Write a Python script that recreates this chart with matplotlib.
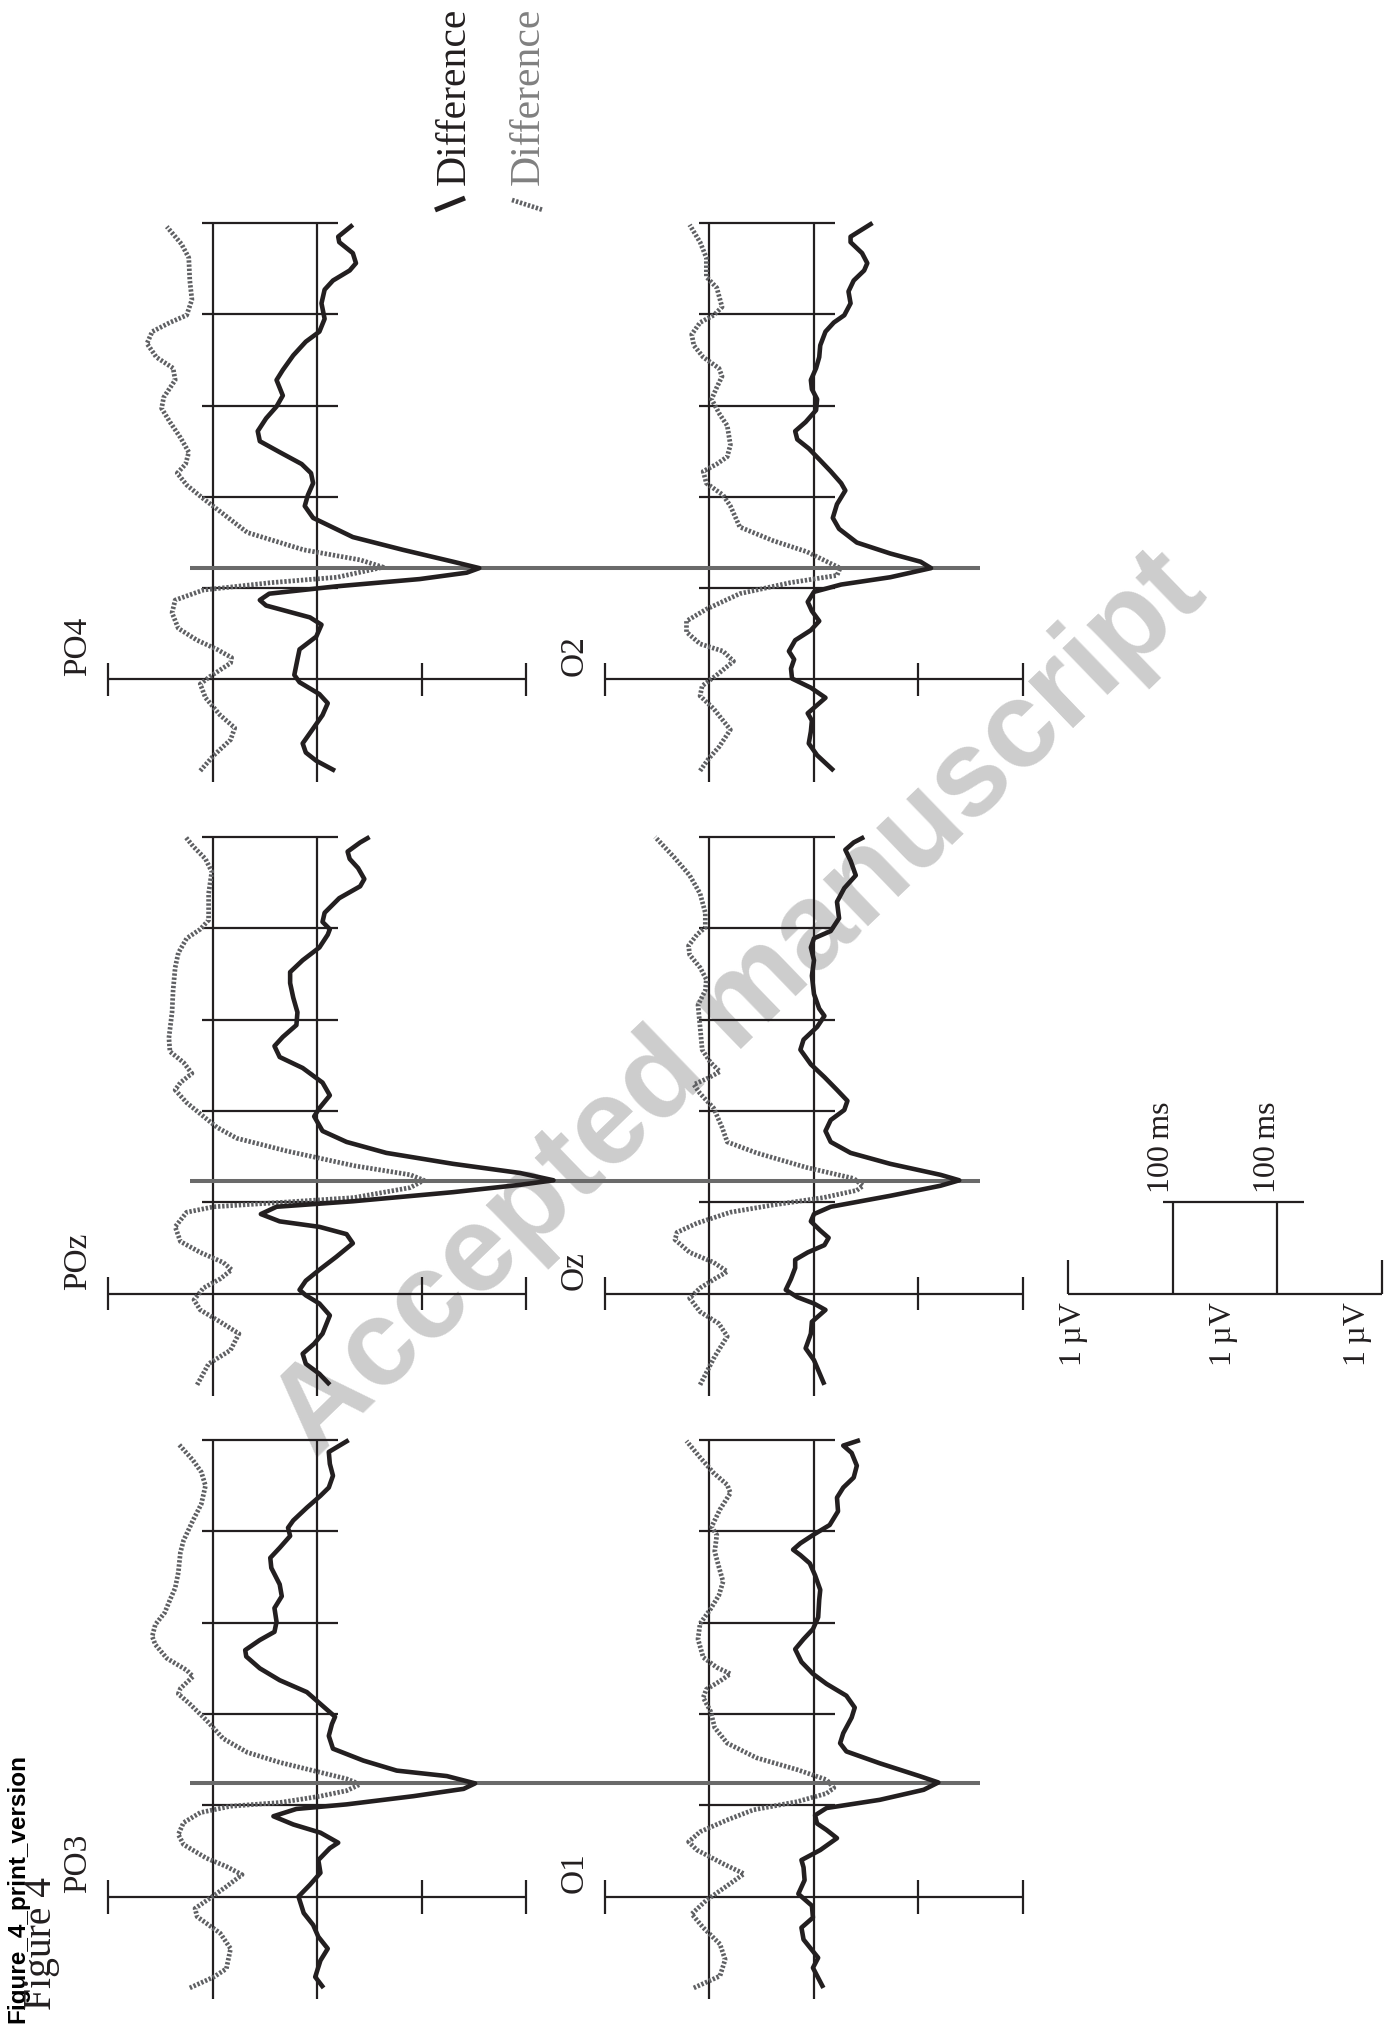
"""Figure 4 (print version): difference waves at PO3/POz/PO4 and O1/Oz/O2.

The page is rotated 90 degrees, so time runs upward and amplitude runs
to the right. Each column of the page gets one axes (uV across, ms up).
"""
import matplotlib
matplotlib.use("Agg")
import matplotlib.pyplot as plt
from matplotlib.lines import Line2D
import numpy as np

# ---- data (ms, uV) ---------------------------------------------------------
# black = first difference wave, dotted = second difference wave
PO3_BLACK_MS = [-100, -88, -70, -57, -44, -31, -18, 0, 13, 26, 40, 53, 59, 70, 79, 88, 96, 101,
                110, 118, 124, 132, 138, 149, 162, 176, 189, 197, 211, 224, 237, 250, 263, 270,
                281, 290, 301, 316, 329, 342, 360, 371, 382, 395, 404, 412, 426, 439, 448, 461,
                474, 487, 500]
PO3_BLACK_UV = [0.06, -0.02, 0.03, 0.10, 0.01, -0.04, -0.13, -0.18, -0.07, 0.03, 0.01, 0.12, 0.20,
                0.03, -0.23, -0.42, -0.20, 0.28, 0.92, 1.40, 1.51, 1.24, 0.76, 0.44, 0.15, 0.11,
                0.14, 0.17, 0.03, -0.10, -0.36, -0.55, -0.68, -0.69, -0.55, -0.41, -0.39, -0.41,
                -0.34, -0.36, -0.44, -0.45, -0.36, -0.26, -0.28, -0.23, -0.10, 0.03, 0.11, 0.15,
                0.12, 0.11, 0.30]
PO3_DOT_MS = [-100, -88, -79, -57, -40, -22, -13, -2, 11, 24, 33, 42, 57, 68, 81, 92, 99, 103,
              110, 116, 123, 129, 138, 147, 158, 173, 193, 211, 222, 228, 241, 248, 261, 276,
              285, 298, 311, 325, 338, 355, 377, 390, 412, 430, 450, 465, 478, 496]
PO3_DOT_UV = [-0.22, 0.01, 0.13, 0.17, 0.07, -0.15, -0.17, -0.03, 0.13, 0.28, 0.13, -0.06, -0.28,
              -0.33, -0.28, -0.12, 0.17, 0.64, 1.03, 1.28, 1.41, 1.28, 0.96, 0.64, 0.33, 0.10,
              -0.06, -0.22, -0.33, -0.31, -0.19, -0.25, -0.44, -0.55, -0.58, -0.55, -0.46, -0.41,
              -0.36, -0.33, -0.31, -0.28, -0.19, -0.11, -0.07, -0.11, -0.19, -0.33]

O1_BLACK_MS = [-100, -78, -67, -47, -34, -23, -10, 3, 18, 32, 40, 51, 64, 73, 80, 89, 97, 106,
               117, 125, 132, 146, 159, 168, 179, 196, 207, 220, 233, 244, 257, 271, 282, 293,
               306, 325, 336, 352, 365, 374, 380, 387, 396, 407, 422, 437, 448, 459, 472, 486,
               494, 500]
O1_BLACK_UV = [0.09, -0.01, 0.04, -0.10, -0.12, -0.01, -0.02, -0.15, -0.09, -0.10, -0.12, 0.06,
               0.22, 0.12, 0.03, 0.01, 0.12, 0.63, 1.05, 1.19, 1.01, 0.63, 0.31, 0.25, 0.28, 0.36,
               0.39, 0.31, 0.12, -0.01, -0.12, -0.18, -0.10, -0.01, 0.04, 0.05, 0.06, 0.01, -0.04,
               -0.13, -0.20, -0.13, -0.01, 0.15, 0.23, 0.22, 0.28, 0.38, 0.41, 0.36, 0.28, 0.44]
O1_DOT_MS = [-100, -87, -69, -52, -34, -19, -4, 12, 25, 36, 51, 60, 71, 84, 95, 104, 113, 119,
             128, 139, 152, 168, 185, 203, 218, 227, 236, 244, 251, 262, 282, 299, 315, 330, 345,
             361, 378, 396, 405, 424, 442, 451, 464, 481, 499]
O1_DOT_UV = [-0.15, 0.10, 0.15, 0.10, -0.06, -0.17, -0.03, 0.17, 0.33, 0.13, -0.12, -0.20, -0.09,
             0.17, 0.42, 0.84, 1.12, 1.19, 1.12, 0.84, 0.45, 0.17, 0.05, 0.01, -0.06, -0.03, 0.10,
             0.20, 0.07, -0.06, -0.11, -0.09, 0.01, 0.09, 0.13, 0.09, 0.05, 0.07, 0.02, 0.10,
             0.20, 0.17, 0.04, -0.09, -0.22]

POZ_BLACK_MS = [-100, -88, -77, -66, -55, -44, -24, -11, -2, 4, 14, 26, 40, 55, 65, 73, 79, 87,
                95, 101, 111, 119, 124, 132, 142, 154, 166, 178, 194, 203, 217, 231, 247, 259,
                271, 281, 294, 308, 324, 340, 352, 365, 379, 393, 399, 407, 417, 433, 446, 454,
                466, 476, 484, 494, 500]
POZ_BLACK_UV = [0.12, 0.02, -0.11, -0.14, -0.03, 0.05, 0.12, 0.02, -0.11, -0.17, -0.11, 0.02,
                0.18, 0.34, 0.28, 0.02, -0.36, -0.54, -0.39, 0.34, 1.30, 1.94, 2.26, 1.94, 1.30,
                0.66, 0.28, 0.05, -0.03, 0.02, 0.12, 0.05, -0.14, -0.36, -0.41, -0.33, -0.20,
                -0.19, -0.23, -0.26, -0.26, -0.14, 0.02, 0.10, 0.12, 0.05, 0.07, 0.21, 0.41, 0.45,
                0.39, 0.31, 0.29, 0.41, 0.50]
POZ_DOT_MS = [-100, -77, -62, -44, -31, -18, -7, 6, 16, 26, 34, 45, 57, 73, 89, 95, 99, 105, 116,
              124, 130, 140, 156, 170, 182, 194, 209, 223, 231, 241, 253, 265, 280, 308, 332, 357,
              373, 389, 399, 409, 438, 462, 476, 490, 500]
POZ_DOT_UV = [-0.15, -0.04, 0.17, 0.25, 0.07, -0.12, -0.18, -0.09, 0.07, 0.18, 0.10, -0.12, -0.31,
              -0.36, -0.25, 0.01, 0.55, 1.35, 1.89, 2.02, 1.89, 1.35, 0.71, 0.23, 0.04, -0.09,
              -0.25, -0.36, -0.31, -0.20, -0.28, -0.41, -0.42, -0.39, -0.38, -0.36, -0.33, -0.25,
              -0.12, -0.04, -0.04, -0.01, -0.07, -0.19, -0.26]

OZ_BLACK_MS = [-100, -73, -60, -44, -31, -18, -11, -4, 4, 16, 28, 37, 45, 53, 61, 69, 79, 87, 95,
               107, 118, 124, 130, 142, 154, 166, 178, 190, 201, 211, 223, 237, 251, 267, 278,
               292, 304, 312, 328, 348, 365, 379, 389, 397, 411, 429, 444, 458, 474, 486, 494, 500]
OZ_BLACK_UV = [0.10, 0.0, -0.08, -0.03, -0.02, 0.11, 0.0, -0.16, -0.27, -0.22, -0.18, -0.18,
               -0.06, 0.10, 0.14, 0.06, -0.03, 0.0, 0.16, 0.73, 1.21, 1.39, 1.21, 0.73, 0.35, 0.16,
               0.11, 0.16, 0.29, 0.32, 0.22, 0.10, -0.03, -0.13, -0.10, 0.03, 0.10, 0.05, 0.0,
               -0.02, 0.0, -0.03, 0.0, 0.16, 0.24, 0.22, 0.29, 0.40, 0.35, 0.30, 0.38, 0.48]
OZ_DOT_MS = [-100, -69, -47, -33, -20, -5, 6, 16, 24, 34, 45, 59, 67, 77, 89, 97, 105, 113, 118,
             126, 138, 154, 166, 182, 203, 219, 229, 235, 243, 253, 267, 292, 316, 332, 344, 357,
             371, 381, 393, 401, 417, 438, 458, 478, 500]
OZ_DOT_UV = [-0.09, 0.05, 0.17, 0.09, -0.09, -0.19, -0.09, 0.05, 0.17, 0.04, -0.19, -0.33, -0.31,
             -0.12, 0.20, 0.61, 1.09, 1.41, 1.47, 1.38, 0.93, 0.45, 0.17, 0.12, 0.04, -0.09, -0.15,
             -0.03, 0.10, 0.01, -0.07, -0.09, -0.11, -0.04, -0.03, -0.09, -0.19, -0.20, -0.12,
             -0.04, -0.04, -0.09, -0.19, -0.34, -0.52]

PO4_BLACK_MS = [-100, -89, -80, -70, -57, -39, -26, -16, -3, 5, 22, 33, 47, 60, 68, 81, 87, 94,
                102, 110, 117, 122, 129, 142, 156, 177, 190, 202, 215, 226, 236, 249, 261, 272,
                286, 299, 311, 328, 339, 355, 370, 381, 395, 412, 427, 437, 448, 456, 467, 479,
                485, 498]
PO4_BLACK_UV = [0.17, -0.01, -0.11, -0.14, -0.06, 0.05, 0.10, 0.02, -0.17, -0.22, -0.19, -0.17,
                -0.01, 0.04, -0.07, -0.49, -0.55, -0.46, 0.18, 0.98, 1.43, 1.55, 1.30, 0.82, 0.34,
                -0.04, -0.12, -0.09, -0.04, -0.06, -0.15, -0.36, -0.55, -0.57, -0.49, -0.39,
                -0.33, -0.39, -0.33, -0.23, -0.11, 0.02, 0.07, 0.04, 0.07, 0.15, 0.31, 0.37, 0.34,
                0.21, 0.20, 0.34]
PO4_DOT_MS = [-100, -83, -66, -53, -39, -20, -5, 3, 18, 24, 33, 43, 56, 73, 87, 98, 106, 112,
              123, 131, 142, 161, 184, 198, 213, 226, 236, 249, 265, 282, 297, 309, 328, 341, 353,
              368, 381, 391, 399, 416, 437, 462, 477, 496]
PO4_DOT_UV = [-0.12, 0.01, 0.17, 0.21, 0.07, -0.07, -0.12, -0.03, 0.17, 0.18, 0.04, -0.15, -0.33,
              -0.39, -0.36, -0.09, 0.55, 1.19, 1.63, 1.41, 0.87, 0.33, 0.07, -0.09, -0.25, -0.34,
              -0.26, -0.23, -0.31, -0.41, -0.49, -0.47, -0.36, -0.38, -0.54, -0.63, -0.58, -0.41,
              -0.25, -0.20, -0.22, -0.23, -0.30, -0.44]

O2_BLACK_MS = [-100, -83, -70, -57, -45, -37, -28, -20, -9, 1, 12, 22, 31, 43, 54, 64, 75, 85, 96,
               104, 112, 122, 129, 138, 150, 165, 177, 192, 207, 215, 228, 240, 253, 263, 272,
               282, 295, 307, 318, 328, 341, 353, 366, 381, 391, 399, 412, 425, 437, 448, 456,
               467, 479, 485, 500]
O2_BLACK_UV = [0.19, 0.03, -0.05, -0.03, -0.02, -0.06, 0.03, 0.11, -0.03, -0.21, -0.22, -0.19,
               -0.24, -0.18, -0.03, 0.05, -0.02, -0.06, 0.0, 0.26, 0.73, 1.12, 1.02, 0.73, 0.41,
               0.24, 0.18, 0.22, 0.30, 0.26, 0.16, 0.06, -0.05, -0.16, -0.18, -0.08, 0.02, 0.03,
               -0.02, -0.03, 0.02, 0.05, 0.06, 0.11, 0.19, 0.29, 0.35, 0.33, 0.38, 0.48, 0.51,
               0.46, 0.35, 0.35, 0.56]
O2_DOT_MS = [-100, -87, -74, -55, -45, -32, -18, -7, 5, 20, 31, 39, 52, 64, 77, 94, 106, 114, 122,
             140, 152, 167, 190, 202, 215, 228, 236, 244, 257, 278, 290, 307, 320, 332, 341, 353,
             366, 378, 391, 399, 408, 429, 441, 462, 479, 498]
O2_DOT_UV = [-0.09, -0.01, 0.09, 0.20, 0.13, 0.04, -0.09, -0.07, 0.07, 0.23, 0.13, -0.09, -0.22,
             -0.22, -0.03, 0.29, 0.77, 1.22, 1.25, 0.93, 0.61, 0.29, 0.20, 0.13, -0.03, -0.06,
             0.07, 0.17, 0.20, 0.17, 0.10, 0.02, 0.07, 0.12, 0.09, -0.06, -0.15, -0.17, -0.09,
             0.04, 0.12, 0.07, -0.03, -0.03, -0.09, -0.19]

# latency of the grey marker in each page column (PO3/O1, POz/Oz, PO4/O2)
MARKER_MS = [124, 123, 122]
TIME_TICKS_MS = [100, 200, 300, 400, 500]

# ---- page geometry ---------------------------------------------------------
W, H = 1388, 2028
PX_PER_UV = 104.5
PX_PER_MS = 0.913
X0_PX = 317.3                      # black baseline of the PO panels
O_SHIFT = 4.753                    # O panels sit this many uV to the right
COL_ZERO_Y = [1896.6, 1293.5, 679.5]
COL_BAND = [(1420, 2028), (810, 1420), (0, 810)]

INK = "#231f20"
DOT_GREY = "#5f6063"
MARK_GREY = "#6a6a6a"
SERIF = ["Liberation Serif", "DejaVu Serif"]
SANS = ["Liberation Sans", "DejaVu Sans"]
GUIDE_LW = 1.6
TRACE_LW = 3.3
DOT_STYLE = dict(color=DOT_GREY, lw=3.4, linestyle=(0, (0.5, 0.38)),
                 dash_capstyle="butt", zorder=3)

fig = plt.figure(figsize=(W / 100, H / 100), dpi=100)


def fx(x):
    return x / W


def fy(y):
    return 1 - y / H


cols = []
for y0, (top, bot) in zip(COL_ZERO_Y, COL_BAND):
    ax = fig.add_axes([0, 1 - bot / H, 1, (bot - top) / H])
    ax.set_xlim(-X0_PX / PX_PER_UV, (W - X0_PX) / PX_PER_UV)
    ax.set_ylim((y0 - bot) / PX_PER_MS, (y0 - top) / PX_PER_MS)
    ax.axis("off")
    ax.patch.set_visible(False)
    cols.append(ax)


def guide(ax, xs, ys):
    ax.plot(xs, ys, color=INK, lw=GUIDE_LW, solid_capstyle="butt", zorder=2)


def panel(ax, off, name, black_ms, black_uv, dot_ms, dot_uv):
    # amplitude axis at t = 0 with its end ticks
    guide(ax, [off - 2, off + 2], [0, 0])
    for tx in (-2, 1, 2):
        guide(ax, [off + tx, off + tx], [-18.6, 18.6])
    # two zero lines: dotted wave at -1 uV, black wave at 0 uV
    for bx in (-1, 0):
        guide(ax, [off + bx, off + bx], [-112, 500])
    for t in TIME_TICKS_MS:
        guide(ax, [off - 1.1, off + 0.2], [t, t])
    ax.plot(off - 1 + np.array(dot_uv), dot_ms, **DOT_STYLE)
    ax.plot(off + np.array(black_uv), black_ms, color=INK, lw=TRACE_LW,
            solid_joinstyle="round", solid_capstyle="butt", zorder=5)
    ax.text(off - 2.29, 4, name, rotation=90, ha="center", va="bottom",
            fontsize=24, family=SERIF, color=INK)


panels = [
    (0, 0.0, "PO3", PO3_BLACK_MS, PO3_BLACK_UV, PO3_DOT_MS, PO3_DOT_UV),
    (0, O_SHIFT, "O1", O1_BLACK_MS, O1_BLACK_UV, O1_DOT_MS, O1_DOT_UV),
    (1, 0.0, "POz", POZ_BLACK_MS, POZ_BLACK_UV, POZ_DOT_MS, POZ_DOT_UV),
    (1, O_SHIFT, "Oz", OZ_BLACK_MS, OZ_BLACK_UV, OZ_DOT_MS, OZ_DOT_UV),
    (2, 0.0, "PO4", PO4_BLACK_MS, PO4_BLACK_UV, PO4_DOT_MS, PO4_DOT_UV),
    (2, O_SHIFT, "O2", O2_BLACK_MS, O2_BLACK_UV, O2_DOT_MS, O2_DOT_UV),
]
for ci, off, name, bms, buv, dms, duv in panels:
    panel(cols[ci], off, name, bms, buv, dms, duv)

# grey latency marker running through both panels of a column
for ax, t in zip(cols, MARKER_MS):
    ax.plot([-1.218, O_SHIFT + 1.589], [t, t], color=MARK_GREY, lw=2.9,
            solid_capstyle="butt", zorder=4)

# calibration bar, drawn in the middle column at its t = 0
sb = cols[1]
sx = 7.184
guide(sb, [sx, sx + 3], [0, 0])
guide(sb, [sx, sx], [0, 37])
guide(sb, [sx + 3, sx + 3], [0, 37])
guide(sb, [sx + 1, sx + 1], [0, 100])
guide(sb, [sx + 2, sx + 2], [0, 100])
guide(sb, [sx + 0.906, sx + 2.258], [100, 100])
for lx in (0.897, 1.909):
    sb.text(sx + lx, 110, "100\u2009ms", rotation=90, ha="center", va="bottom",
            fontsize=23, family=SERIF, color=INK)
for lx in (0.05, 1.483, 2.77):
    sb.text(sx + lx, -9, "1\u2009\u00b5V", rotation=90, ha="center", va="top",
            fontsize=23, family=SERIF, color=INK)

# legend keys at the top edge of the page
fig.add_artist(Line2D([fx(435), fx(465)], [fy(210), fy(198)], color=INK, lw=3.6,
                      solid_capstyle="butt"))
fig.add_artist(Line2D([fx(512), fx(543)], [fy(200), fy(210)], **DOT_STYLE))
fig.text(fx(454), fy(185), "Difference", rotation=90, ha="center", va="bottom",
         fontsize=30, family=SERIF, color=INK)
fig.text(fx(529), fy(185), "Difference", rotation=90, ha="center", va="bottom",
         fontsize=30, family=SERIF, color="#808080")

# page furniture
fig.text(fx(18), fy(2023), "Figure_4_print_version", rotation=90, ha="center",
         va="bottom", fontsize=17.5, family=SANS, fontweight="bold", color="black")
fig.text(fx(42), fy(2010), "Figure 4", rotation=90, ha="center", va="bottom",
         fontsize=28.5, family=SERIF, color=INK)
fig.text(fx(740), fy(1005), "Accepted manuscript", rotation=44, ha="center",
         va="center", fontsize=88, family=SANS, fontweight="bold",
         color="#cdcdcd", zorder=-1)

fig.savefig("out.png", dpi=100)
